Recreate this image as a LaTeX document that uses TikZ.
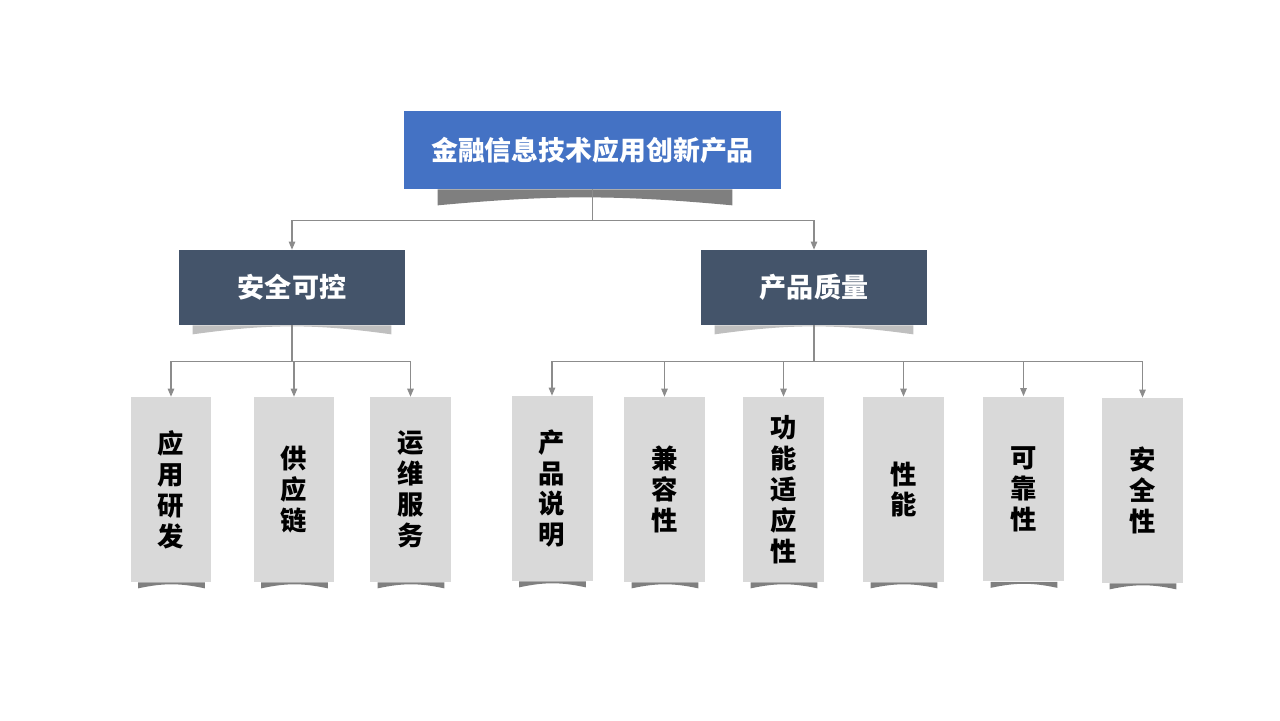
\documentclass[tikz,border=0pt]{standalone}
\usepackage{fontspec}
\newfontfamily\cjk{Noto Sans CJK SC}
\usetikzlibrary{arrows.meta}
\definecolor{titleBlue}{HTML}{4472C4}
\definecolor{slate}{HTML}{44546A}
\definecolor{paper}{HTML}{D9D9D9}
\definecolor{curlDark}{HTML}{7F7F7F}
\definecolor{curlLight}{HTML}{BFBFBF}
\definecolor{wireGray}{HTML}{8C8C8C}
\tikzset{
    titleBox/.style={fill=titleBlue, text=white, minimum width=7.54cm, minimum height=1.56cm,
        inner sep=0pt, font=\cjk\bfseries\fontsize{15.3}{18}\selectfont},
    groupBox/.style={fill=slate, text=white, minimum width=4.52cm, minimum height=1.5cm,
        inner sep=0pt, font=\cjk\bfseries\fontsize{15.4}{18}\selectfont},
    leafBox/.style={fill=paper, text=black, minimum width=1.62cm, minimum height=3.7cm,
        inner sep=0pt, align=center, font=\cjk\bfseries\fontsize{15}{17.6}\selectfont},
    wire/.style={draw=wireGray, line width=0.6pt, -{Triangle[length=1.6mm,width=1.3mm]}}
}
% curled shadow under a box: node, left inset, right inset, depth, bend, colour
\newcommand{\curl}[6]{%
    \fill[#6] ([shift={(#2,0)}]#1.south west) -- ([shift={(#2,#4)}]#1.south west)
        to[bend left=#5] ([shift={(-#3,#4)}]#1.south east) -- ([shift={(-#3,0)}]#1.south east) -- cycle;
}

\begin{document}
\begin{tikzpicture}[x=0.02cm, y=-0.02cm]
    \useasboundingbox (0,0) rectangle (1280,720);
    \node[titleBox] (fin) at (592.5,150) {金融信息技术应用创新产品};
    \node[groupBox] (safe) at (292,287.5) {安全可控};
    \node[groupBox] (qual) at (814,287.5) {产品质量};

    \node[leafBox] (dev)    at (171,489.5)    {应\\用\\研\\发};
    \node[leafBox] (supply) at (294,489.5)    {供\\应\\链};
    \node[leafBox] (ops)    at (410.5,489.5)  {运\\维\\服\\务};
    \node[leafBox] (manual) at (552,488.5)    {产\\品\\说\\明};
    \node[leafBox] (compat) at (664.5,489.5)  {兼\\容\\性};
    \node[leafBox] (adapt)  at (783.5,489.5)  {功\\能\\适\\应\\性};
    \node[leafBox] (perf)   at (903.5,489.5)  {性\\能};
    \node[leafBox] (rely)   at (1023.5,489)   {可\\靠\\性};
    \node[leafBox] (secure) at (1142.5,490.5) {安\\全\\性};

    \curl{fin}{34}{49}{16}{5.3}{curlDark}
    \curl{safe}{14}{14}{9}{7.9}{curlLight}
    \curl{qual}{14}{14}{9}{7.9}{curlLight}
    \foreach \leaf in {dev,supply,ops,manual,compat,adapt,perf,rely,secure}{
        \curl{\leaf}{8}{7}{6}{12}{curlDark}
    }

    \draw[wire] (fin.south) -- ++(0,31) -| (safe.north);
    \draw[wire] (fin.south) -- ++(0,31) -| (qual.north);
    \foreach \leaf in {dev,supply,ops}
        \draw[wire] (safe.south) -- ++(0,36) -| (\leaf.north);
    \foreach \leaf in {manual,compat,adapt,perf,rely,secure}
        \draw[wire] (qual.south) -- ++(0,36) -| (\leaf.north);
\end{tikzpicture}
\end{document}
